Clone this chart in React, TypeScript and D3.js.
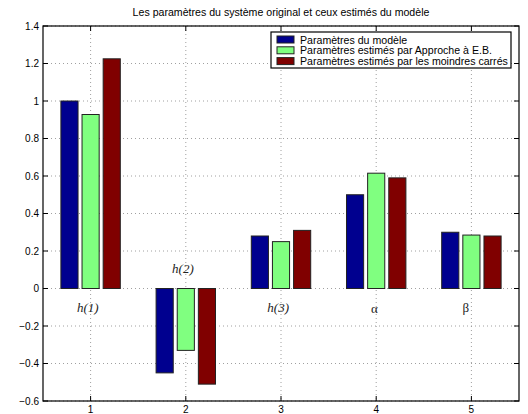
import React, { useEffect, useRef } from 'react';
import * as d3 from 'd3';

const categories = [1, 2, 3, 4, 5];
const seriesNames = [
  'Paramètres du modèle',
  'Paramètres estimés par Approche à E.B.',
  'Paramètres estimés par les moindres carrés',
];
const modelValues = [1.0, -0.45, 0.28, 0.5, 0.3];
const ebValues = [0.928, -0.33, 0.25, 0.615, 0.285];
const lsValues = [1.225, -0.51, 0.31, 0.59, 0.28];
const seriesColors = ['#00008f', '#80ff80', '#800000'];
const yTicks = [-0.6, -0.4, -0.2, 0, 0.2, 0.4, 0.6, 0.8, 1, 1.2, 1.4];
const paramLabels = [
  { x: 0.97, y: -0.125, text: 'h(1)', italic: true },
  { x: 1.97, y: 0.085, text: 'h(2)', italic: true },
  { x: 2.97, y: -0.125, text: 'h(3)', italic: true },
  { x: 3.98, y: -0.13, text: 'α', italic: false },
  { x: 4.94, y: -0.125, text: 'β', italic: false },
];

const W = 528;
const H = 414;

const App: React.FC = () => {
  const ref = useRef<SVGSVGElement | null>(null);

  useEffect(() => {
    if (!ref.current) return;
    const svg = d3.select(ref.current);
    svg.selectAll('*').remove();

    const margin = { top: 26, right: 9, bottom: 13, left: 43 };
    const iw = W - margin.left - margin.right;
    const ih = H - margin.top - margin.bottom;

    const x = d3.scaleLinear().domain([0.5, 5.5]).range([0, iw]);
    const y = d3.scaleLinear().domain([-0.6, 1.4]).range([ih, 0]);
    const font = 'Liberation Sans, Arial, sans-serif';

    svg.append('rect').attr('width', W).attr('height', H).attr('fill', '#fff');

    const g = svg.append('g').attr('transform', `translate(${margin.left},${margin.top})`);

    // grid
    g.selectAll('.gx')
      .data(categories)
      .enter()
      .append('line')
      .attr('x1', d => x(d))
      .attr('x2', d => x(d))
      .attr('y1', 0)
      .attr('y2', ih)
      .attr('stroke', '#888')
      .attr('stroke-width', 0.8)
      .attr('stroke-dasharray', '1,3');
    g.selectAll('.gy')
      .data(yTicks)
      .enter()
      .append('line')
      .attr('x1', 0)
      .attr('x2', iw)
      .attr('y1', d => y(d))
      .attr('y2', d => y(d))
      .attr('stroke', '#888')
      .attr('stroke-width', 0.8)
      .attr('stroke-dasharray', '1,3');

    // bars
    const series = [modelValues, ebValues, lsValues];
    const offsets = [-0.222, 0, 0.222];
    const bw = 0.18;
    series.forEach((vals, si) => {
      g.selectAll(`.bar${si}`)
        .data(vals)
        .enter()
        .append('rect')
        .attr('x', (d, i) => x(categories[i] + offsets[si] - bw / 2))
        .attr('width', x(bw) - x(0))
        .attr('y', d => y(Math.max(0, d)))
        .attr('height', d => Math.abs(y(d) - y(0)))
        .attr('fill', seriesColors[si])
        .attr('stroke', '#222')
        .attr('stroke-width', 1);
    });

    // axes box
    g.append('rect')
      .attr('width', iw)
      .attr('height', ih)
      .attr('fill', 'none')
      .attr('stroke', '#000')
      .attr('stroke-width', 1.2);

    const tl = 5;
    categories.forEach(c => {
      g.append('line').attr('x1', x(c)).attr('x2', x(c)).attr('y1', ih).attr('y2', ih - tl).attr('stroke', '#000');
      g.append('line').attr('x1', x(c)).attr('x2', x(c)).attr('y1', 0).attr('y2', tl).attr('stroke', '#000');
      g.append('text')
        .attr('x', x(c))
        .attr('y', ih + 12)
        .attr('text-anchor', 'middle')
        .style('font-family', font)
        .style('font-size', '10px')
        .text(c);
    });
    yTicks.forEach(t => {
      g.append('line').attr('x1', 0).attr('x2', tl).attr('y1', y(t)).attr('y2', y(t)).attr('stroke', '#000');
      g.append('line').attr('x1', iw).attr('x2', iw - tl).attr('y1', y(t)).attr('y2', y(t)).attr('stroke', '#000');
      g.append('text')
        .attr('x', -4)
        .attr('y', y(t) + 3.5)
        .attr('text-anchor', 'end')
        .style('font-family', font)
        .style('font-size', '10px')
        .text(t === 0 ? '0' : d3.format('.1f')(t).replace('-', '\u2212').replace('1.0', '1'));
    });

    // parameter labels
    paramLabels.forEach(p => {
      g.append('text')
        .attr('x', x(p.x))
        .attr('y', y(p.y))
        .attr('text-anchor', 'middle')
        .style('font-family', 'Liberation Serif, Times New Roman, serif')
        .style('font-style', p.italic ? 'italic' : 'normal')
        .style('font-size', '13px')
        .attr('fill', '#222')
        .text(p.text);
    });

    // title
    svg.append('text')
      .attr('x', margin.left + iw / 2)
      .attr('y', 16)
      .attr('text-anchor', 'middle')
      .style('font-family', font)
      .style('font-size', '10.6px')
      .text('Les paramètres du système original et ceux estimés du modèle');

    // legend
    const lg = svg.append('g').attr('transform', 'translate(271,32)');
    lg.append('rect')
      .attr('width', 240)
      .attr('height', 36)
      .attr('fill', '#fff')
      .attr('stroke', '#000')
      .attr('stroke-width', 1.2);
    seriesNames.forEach((name, i) => {
      lg.append('rect')
        .attr('x', 6)
        .attr('y', 4 + i * 10.8)
        .attr('width', 17)
        .attr('height', 7)
        .attr('fill', seriesColors[i])
        .attr('stroke', '#222');
      lg.append('text')
        .attr('x', 29)
        .attr('y', 11.5 + i * 10.8)
        .style('font-family', font)
        .style('font-size', '10.6px')
        .text(name);
    });
  }, []);

  return <svg ref={ref} width={W} height={H} style={{ position: 'absolute', left: 0, top: 0 }} />;
};

export default App;
